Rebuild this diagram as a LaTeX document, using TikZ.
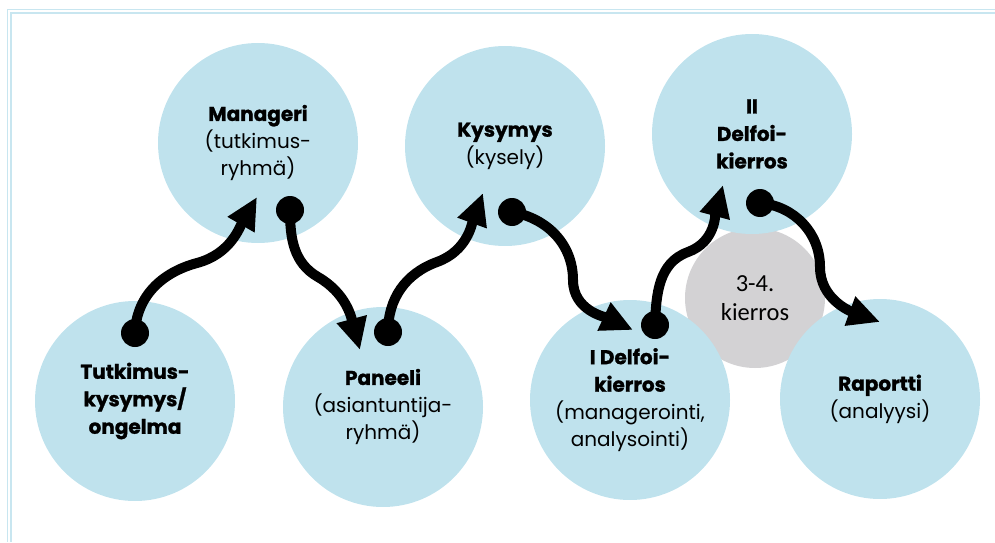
\documentclass[tikz,border=0pt]{standalone}
\usepackage{fontspec}
\usepackage{tikz}
\usetikzlibrary{arrows.meta}
\usetikzlibrary{positioning}
\newfontfamily\stagefont[BoldFeatures={FakeBold=1.2}]{Poppins}
\newfontfamily\roundfont{Carlito}
\definecolor{skyblue}{RGB}{191, 226, 237}
\definecolor{mistgray}{RGB}{211, 210, 212}
\definecolor{framecol}{RGB}{200, 230, 240}
\tikzset{
  stage/.style={circle, fill=skyblue, minimum size=200pt, inner sep=0pt, align=center,
                font=\stagefont\fontsize{20}{27.5}\selectfont},
  extra/.style={circle, fill=mistgray, minimum size=140pt, inner sep=0pt, align=center,
                font=\roundfont\fontsize{24.5}{29}\selectfont},
  flowarrow/.style={line width=10pt, -{Triangle[length=32pt,width=29pt]}},
  startdot/.style={circle, fill=black, minimum size=28pt, inner sep=0pt}
}

\begin{document}
\begin{tikzpicture}[x=1pt, y=1pt]
        \useasboundingbox (0,0) rectangle (995,542);
        % frame lines, top and left
        \draw[framecol, line width=1.4pt] (7.5,0) -- (7.5,532.5) -- (995,532.5);
        \draw[framecol, line width=1.4pt] (11,0)  -- (11,529)    -- (995,529);

        \node[extra] (rounds) at (755,244) {3-4.\\kierros};

        \node[stage] (tutk)  at (135,141) {\textbf{Tutkimus-}\\\textbf{kysymys/}\\\textbf{ongelma}};
        \node[stage] (mgr)   at (258,399) {\textbf{Manageri}\\(tutkimus-\\ryhmä)};
        \node[stage] (panel) at (383,135) {\textbf{Paneeli}\\(asiantuntija-\\ryhmä)};
        \node[stage] (quest) at (505,396) {\textbf{Kysymys}\\(kysely)};
        \node[stage] (del1)  at (630,142) {\textbf{I Delfoi-}\\\textbf{kierros}\\(managerointi,\\analysointi)};
        \node[stage] (del2)  at (752,408) {\textbf{II}\\\textbf{Delfoi-}\\\textbf{kierros}};
        \node[stage] (rep)   at (880,143) {\textbf{Raportti}\\(analyysi)};

        % arrow ends and bends
        \coordinate (a1s) at (135,209); \coordinate (a1m) at (197,279); \coordinate (a1e) at (257,345);
        \coordinate (a2s) at (290,332); \coordinate (a2m) at (318,265); \coordinate (a2e) at (360,192);
        \coordinate (a3s) at (388,210); \coordinate (a3m) at (437,280); \coordinate (a3e) at (483,349);
        \coordinate (a4s) at (512,330); \coordinate (a4m) at (573,262); \coordinate (a4e) at (633,212);
        \coordinate (a5s) at (655,217); \coordinate (a5m) at (688,290); \coordinate (a5e) at (723,357);
        \coordinate (a6s) at (760,339); \coordinate (a6m) at (820,275); \coordinate (a6e) at (880,220);

        \draw[flowarrow] (a1s) to[out=88,in=195]  (a1m) to[out=15,in=240]  (a1e);
        \draw[flowarrow] (a2s) to[out=-90,in=150] (a2m) to[out=-30,in=105] (a2e);
        \draw[flowarrow] (a3s) to[out=90,in=200]  (a3m) to[out=20,in=250]  (a3e);
        \draw[flowarrow] (a4s) to[out=-10,in=90]  (a4m) to[out=-90,in=155] (a4e);
        \draw[flowarrow] (a5s) to[out=88,in=200]  (a5m) to[out=20,in=255]  (a5e);
        \draw[flowarrow] (a6s) to[out=-5,in=90]   (a6m) to[out=-90,in=160] (a6e);

        \foreach \s in {a1s,a2s,a3s,a4s,a5s,a6s}
            \node[startdot] at (\s) {};
\end{tikzpicture}
\end{document}
